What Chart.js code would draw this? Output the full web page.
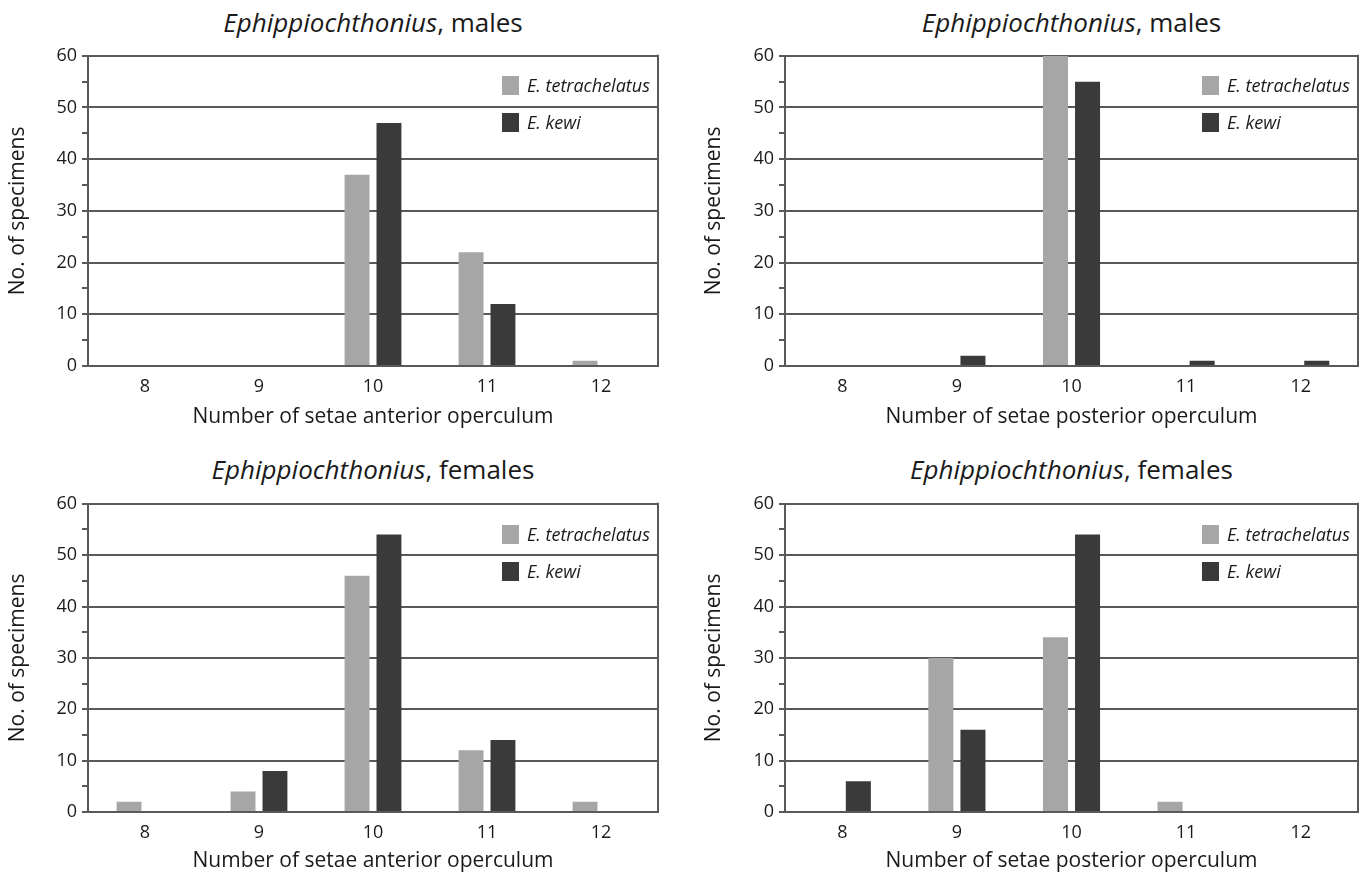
<!DOCTYPE html>
<html>
<head>
<meta charset="utf-8">
<script src="https://cdn.jsdelivr.net/npm/chart.js@4"></script>
<style>
  html, body { margin: 0; padding: 0; background: #fff; overflow: hidden; }
  body { width: 1362px; height: 875px; position: relative; font-family: 'Open Sans', sans-serif; color: #1a1a1a; }
  canvas { position: absolute; }
  .title { position: absolute; font-size: 26px; white-space: nowrap; transform: translate(-50%, -50%); }
  .legend { position: absolute; font-size: 18px; font-style: italic; white-space: nowrap; }
  .legend div { display: flex; align-items: center; height: 20px; margin-bottom: 17px; }
  .legend span.sw { display: inline-block; width: 17px; height: 19px; margin-right: 8px; }
</style>
</head>
<body>
<script>
// ── Data ────────────────────────────────────────────────────────────────
const categories = ['8', '9', '10', '11', '12'];
const yTickMax   = 60;

// males, anterior operculum
const malesAntTetra   = [0, 0, 37, 22, 1];
const malesAntKewi    = [0, 0, 47, 12, 0];
// males, posterior operculum
const malesPostTetra  = [0, 0, 60, 0, 0];
const malesPostKewi   = [0, 2, 55, 1, 1];
// females, anterior operculum
const femalesAntTetra = [2, 4, 46, 12, 2];
const femalesAntKewi  = [0, 8, 54, 14, 0];
// females, posterior operculum
const femalesPostTetra = [0, 30, 34, 2, 0];
const femalesPostKewi  = [6, 16, 54, 0, 0];

const seriesNames = ['E. tetrachelatus', 'E. kewi'];
const LIGHT = '#a6a6a6';
const DARK  = '#3a3a3a';
const LINE  = '#595959';
const TEXT  = '#1a1a1a';
const FONT  = "'Open Sans', sans-serif";

// Draws the right-hand edge of the plot frame
const framePlugin = {
  id: 'frame',
  afterDatasetsDraw(chart) {
    const { ctx, chartArea: a } = chart;
    ctx.save();
    ctx.strokeStyle = LINE;
    ctx.lineWidth = 2;
    ctx.beginPath();
    ctx.moveTo(a.right, a.top - 1);
    ctx.lineTo(a.right, a.bottom + 1);
    ctx.stroke();
    ctx.restore();
  }
};

function makePanel(p) {
  const canvas = document.createElement('canvas');
  canvas.width = p.w; canvas.height = p.h;
  canvas.style.left = p.x + 'px'; canvas.style.top = p.y + 'px';
  canvas.style.width = p.w + 'px'; canvas.style.height = p.h + 'px';
  document.body.appendChild(canvas);

  // title: italic genus + plain sex
  const t = document.createElement('div');
  t.className = 'title';
  t.style.left = ((p.plotLeft + p.plotRight) / 2) + 'px';
  t.style.top = p.titleY + 'px';
  t.innerHTML = '<i>Ephippiochthonius</i>, ' + p.sex;
  document.body.appendChild(t);

  // legend inside plot, upper right
  const lg = document.createElement('div');
  lg.className = 'legend';
  lg.style.left = (p.plotRight - 156) + 'px';
  lg.style.top = (p.plotTop + 22) + 'px';
  lg.innerHTML = seriesNames.map((n, i) =>
    `<div><span class="sw" style="background:${i ? DARK : LIGHT}"></span>${n}</div>`).join('');
  document.body.appendChild(lg);

  new Chart(canvas.getContext('2d'), {
    type: 'bar',
    data: {
      labels: categories,
      datasets: [
        { label: seriesNames[0], data: p.tetra, backgroundColor: LIGHT },
        { label: seriesNames[1], data: p.kewi,  backgroundColor: DARK },
      ],
    },
    options: {
      responsive: false,
      animation: false,
      categoryPercentage: 0.56,
      barPercentage: 0.78,
      layout: {
        padding: {
          left: 0,
          top: p.plotTop - p.y,
          right: p.x + p.w - p.plotRight,
          bottom: 0,
        },
      },
      plugins: { legend: { display: false }, tooltip: { enabled: false } },
      scales: {
        x: {
          grid: { display: false, drawTicks: false },
          border: { color: LINE, width: 2 },
          ticks: { color: TEXT, font: { family: FONT, size: 18 }, padding: 10 },
          title: {
            display: true, text: p.xTitle, color: TEXT,
            font: { family: FONT, size: 21 }, padding: { top: 0, bottom: 3 },
          },
          afterFit(s) { s.height = p.y + p.h - p.plotBottom; },
        },
        y: {
          min: 0, max: yTickMax,
          ticks: {
            stepSize: 5, color: TEXT, padding: 5,
            font: { family: FONT, size: 18 },
            callback: v => (v % 10 === 0 ? v : ''),
          },
          grid: {
            color: c => (c.tick && c.tick.value % 10 === 0 ? LINE : 'rgba(0,0,0,0)'),
            tickColor: LINE,
            lineWidth: 2,
            tickLength: 6,
          },
          border: { color: LINE, width: 2 },
          title: {
            display: true, text: 'No. of specimens', color: TEXT,
            font: { family: FONT, size: 21 }, padding: { top: p.yTitlePad, bottom: 0 },
          },
          afterFit(s) { s.width = p.plotLeft - p.x; },
        },
      },
    },
    plugins: [framePlugin],
  });
}

makePanel({ x: 0, y: 40, w: 680, h: 393, plotLeft: 88, plotRight: 658, plotTop: 53, plotBottom: 366,
  titleY: 22, sex: 'males', xTitle: 'Number of setae anterior operculum', yTitlePad: 5,
  tetra: malesAntTetra, kewi: malesAntKewi });
makePanel({ x: 680, y: 40, w: 682, h: 393, plotLeft: 785, plotRight: 1358, plotTop: 53, plotBottom: 366,
  titleY: 22, sex: 'males', xTitle: 'Number of setae posterior operculum', yTitlePad: 21,
  tetra: malesPostTetra, kewi: malesPostKewi });
makePanel({ x: 0, y: 488, w: 680, h: 389, plotLeft: 88, plotRight: 658, plotTop: 502, plotBottom: 812,
  titleY: 469, sex: 'females', xTitle: 'Number of setae anterior operculum', yTitlePad: 5,
  tetra: femalesAntTetra, kewi: femalesAntKewi });
makePanel({ x: 680, y: 488, w: 682, h: 389, plotLeft: 785, plotRight: 1358, plotTop: 502, plotBottom: 812,
  titleY: 469, sex: 'females', xTitle: 'Number of setae posterior operculum', yTitlePad: 21,
  tetra: femalesPostTetra, kewi: femalesPostKewi });
</script>
</body>
</html>
